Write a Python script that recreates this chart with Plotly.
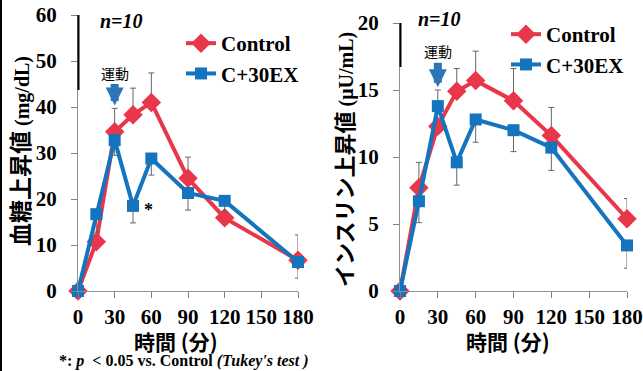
import plotly.graph_objects as go

W, H = 643, 371
def px(x):
    return x / W
def py(y):
    return (H - y) / H

# ---- data ----
time_min = [0, 15, 30, 45, 60, 90, 120, 180]
x_ticks = [0, 30, 60, 90, 120, 150, 180]

glu_ctrl = [0, 10.7, 34.6, 38.3, 41.0, 24.5, 15.9, 6.7]
glu_ctrl_up = [0, 0, 5.1, 5.8, 6.4, 4.6, 0, 5.5]
glu_ex = [0, 16.7, 32.8, 18.5, 28.8, 21.3, 19.6, 6.3]
glu_ex_dn = [0, 3.9, 3.3, 3.7, 3.6, 3.7, 2.4, 3.5]

ins_ctrl = [0, 7.7, 12.3, 14.9, 15.7, 14.2, 11.6, 5.4]
ins_ctrl_up = [0, 1.9, 0, 1.7, 2.2, 2.4, 2.1, 1.5]
ins_ex = [0, 6.7, 13.8, 9.6, 12.8, 12.0, 10.7, 3.4]
ins_ex_up = [0, 0, 1.2, 0, 0, 0, 0, 0]
ins_ex_dn = [0, 1.6, 0, 1.7, 1.7, 1.6, 1.7, 1.7]

RED = "#E8364A"
BLUE = "#1474BE"
ERR = "#666666"
SERIF = "Liberation Serif"
JP = "Noto Sans CJK JP"

fig = go.Figure()

def add(xa, ya, y, up, dn, name, color, symbol, size, legend, show):
    fig.add_trace(go.Scatter(
        x=time_min, y=y, xaxis=xa, yaxis=ya, name=name,
        mode="lines+markers", legend=legend, showlegend=show,
        line=dict(color=color, width=4),
        marker=dict(color=color, symbol=symbol, size=size),
        error_y=dict(type="data", symmetric=False, array=up, arrayminus=dn,
                     color=ERR, thickness=1, width=3),
        cliponaxis=False,
    ))

zeros = [0] * len(time_min)
add("x", "y", glu_ctrl, glu_ctrl_up, zeros, "Control", RED, "diamond", 15, "legend", True)
add("x", "y", glu_ex, zeros, glu_ex_dn, "C+30EX", BLUE, "square", 12, "legend", True)
add("x2", "y2", ins_ctrl, ins_ctrl_up, zeros, "Control", RED, "diamond", 15, "legend2", True)
add("x2", "y2", ins_ex, ins_ex_up, ins_ex_dn, "C+30EX", BLUE, "square", 12, "legend2", True)

tickfont = dict(family=SERIF, size=21, color="black", weight="bold")
xcommon = dict(range=[0, 180], tickvals=x_ticks, ticks="outside", ticklen=6,
               tickcolor="#808080", showline=True, linecolor="#909090", linewidth=1,
               showgrid=False, zeroline=False, tickfont=tickfont,
               ticklabelstandoff=1, automargin=False)
ycommon = dict(ticks="outside", ticklen=6, tickcolor="#808080", showline=True,
               linecolor="#909090", linewidth=1, showgrid=False, zeroline=False,
               tickfont=tickfont, ticklabelstandoff=10, automargin=False)

fig.update_layout(
    width=W, height=H, autosize=False,
    margin=dict(l=0, r=0, t=0, b=0, autoexpand=False),
    paper_bgcolor="white", plot_bgcolor="white",
    xaxis=dict(domain=[px(78), px(298)], anchor="y", **xcommon),
    yaxis=dict(domain=[py(291), py(15)], anchor="x", range=[0, 60],
               tickvals=[0, 10, 20, 30, 40, 50, 60], **ycommon),
    xaxis2=dict(domain=[px(400), px(627)], anchor="y2", **xcommon),
    yaxis2=dict(domain=[py(291), py(23)], anchor="x2", range=[0, 20],
                tickvals=[0, 5, 10, 15, 20], **ycommon),
    legend=dict(x=px(181), y=py(23), xanchor="left", yanchor="top",
                font=dict(family=SERIF, size=21, color="black", weight="bold"),
                bgcolor="rgba(0,0,0,0)", itemwidth=30, tracegroupgap=0),
    legend2=dict(x=px(506), y=py(14), xanchor="left", yanchor="top",
                 font=dict(family=SERIF, size=21, color="black", weight="bold"),
                 bgcolor="rgba(0,0,0,0)", itemwidth=30, tracegroupgap=0),
    showlegend=True,
)

ann = []
# y-axis titles
ann.append(dict(xref="paper", yref="paper", x=px(19), y=py(151), showarrow=False,
                textangle=-90, xanchor="center", yanchor="middle",
                text="<b>血糖上昇値</b><span style=\"font-family:Liberation Serif;font-size:20px\"><b> (mg/dL)</b></span>",
                font=dict(family=JP, size=23, color="black")))
ann.append(dict(xref="paper", yref="paper", x=px(343), y=py(160), showarrow=False,
                textangle=-90, xanchor="center", yanchor="middle",
                text="<b>インスリン上昇値</b><span style=\"font-family:Liberation Serif;font-size:20px\"><b> (μU/mL)</b></span>",
                font=dict(family=JP, size=22, color="black")))
# x-axis titles
for xc in (176, 508):
    ann.append(dict(xref="paper", yref="paper", x=px(xc), y=py(341), showarrow=False,
                    xanchor="center", yanchor="middle",
                    text="<b>時間 (分)</b>", font=dict(family=JP, size=21, color="black")))
# n=10
ann.append(dict(xref="paper", yref="paper", x=px(121), y=py(21), showarrow=False,
                xanchor="center", yanchor="middle",
                text="<b><i>n=10</i></b>", font=dict(family=SERIF, size=20, color="black")))
ann.append(dict(xref="paper", yref="paper", x=px(440), y=py(19), showarrow=False,
                xanchor="center", yanchor="middle",
                text="<b><i>n=10</i></b>", font=dict(family=SERIF, size=20, color="black")))
# exercise arrows
ann.append(dict(xref="x", yref="y", x=30, y=40.3, ax=0, ay=-33, text="運動",
                showarrow=True, arrowhead=2, arrowsize=0.45, arrowwidth=8,
                arrowcolor="#2E75B6", font=dict(family=JP, size=14, color="black"),
                standoff=0, startstandoff=0))
ann.append(dict(xref="x2", yref="y2", x=30, y=15.2, ax=0, ay=-36, text="運動",
                showarrow=True, arrowhead=2, arrowsize=0.45, arrowwidth=8,
                arrowcolor="#2E75B6", font=dict(family=JP, size=14, color="black"),
                standoff=0, startstandoff=0))
# significance star
ann.append(dict(xref="paper", yref="paper", x=px(148), y=py(210), showarrow=False,
                xanchor="center", yanchor="middle",
                text="<b>*</b>", font=dict(family=SERIF, size=18, color="black")))
# footnote
ann.append(dict(xref="paper", yref="paper", x=px(184), y=py(361), showarrow=False,
                xanchor="center", yanchor="middle",
                text="<b>*: <i>p</i>  &lt; 0.05 vs. Control <i>(Tukey's test )</i></b>",
                font=dict(family=SERIF, size=16, color="black")))
fig.update_layout(annotations=ann)

shapes = [
    dict(type="line", xref="paper", yref="paper", x0=px(1), x1=px(1), y0=0, y1=1,
         line=dict(color="black", width=2)),
    dict(type="line", xref="paper", yref="paper", x0=px(78.5), x1=px(78.5), y0=py(90), y1=py(15),
         line=dict(color="black", width=2)),
    dict(type="line", xref="paper", yref="paper", x0=px(400.5), x1=px(400.5), y0=py(67), y1=py(23),
         line=dict(color="black", width=2)),
]
fig.update_layout(shapes=shapes)

fig.write_html("out.html", post_script="document.body.style.margin='0';document.body.style.padding='0';")
